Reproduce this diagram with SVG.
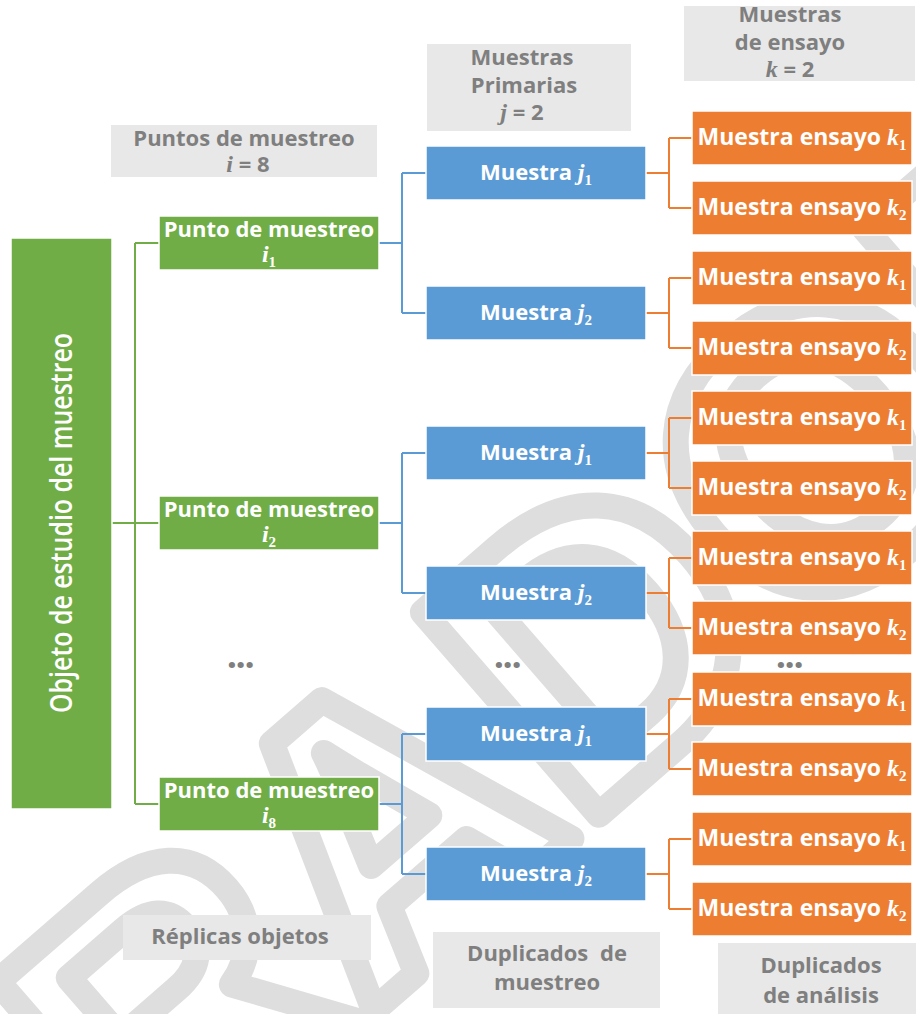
<svg xmlns="http://www.w3.org/2000/svg" width="916" height="1014" viewBox="0 0 916 1014">
  <style>
    .wm { font-family: "Liberation Sans", Arial, sans-serif; font-weight: 700; font-size: 390px; fill: none; stroke: #dedede; stroke-width: 26; stroke-linejoin: round; }
    .lbl { fill: #e8e8e8; }
    .lt { font-family: "Open Sans", "Liberation Sans", sans-serif; font-weight: 700; font-size: 22px; fill: #7f7f7f; text-anchor: middle; }
    .nt { font-family: "Open Sans", "Liberation Sans", sans-serif; font-weight: 700; font-size: 22px; fill: #ffffff; text-anchor: middle; }
    .ot { font-size: 23px; }
    .var { font-family: "Liberation Serif", "DejaVu Serif", serif; font-style: italic; font-weight: 700; font-size: 24px; }
    .sub { font-family: "Liberation Serif", "DejaVu Serif", serif; font-weight: 700; font-size: 15px; }
    .dots { font-family: "Open Sans", "Liberation Sans", sans-serif; font-weight: 700; font-size: 36px; fill: #7f7f7f; text-anchor: middle; letter-spacing: -1.5px; }
    .g { fill: #70ad47; stroke: #ffffff; stroke-width: 1.5; }
    .b { fill: #5b9bd5; stroke: #ffffff; stroke-width: 1.5; }
    .o { fill: #ed7d31; stroke: #ffffff; stroke-width: 1.5; }
    .cg { fill: none; stroke: #70ad47; stroke-width: 2; }
    .cb { fill: none; stroke: #5b9bd5; stroke-width: 2; }
    .co { fill: none; stroke: #ed7d31; stroke-width: 2; }
  </style>

  <!-- draft watermark -->
  <text class="wm" transform="translate(-500,1770) rotate(-41)" x="0" y="0">BORRADOR</text>

  <!-- column headings -->
  <g id="hdr-puntos">
    <rect class="lbl" x="111" y="125" width="266" height="52"/>
    <text class="lt" x="244" y="146">Puntos de muestreo</text>
    <text class="lt" x="248" y="172"><tspan class="var">i</tspan> = 8</text>
  </g>
  <g id="hdr-primarias">
    <rect class="lbl" x="427" y="44" width="204" height="87"/>
    <text class="lt" x="522" y="65">Muestras</text>
    <text class="lt" x="524" y="93">Primarias</text>
    <text class="lt" x="522" y="120"><tspan class="var">j</tspan> = 2</text>
  </g>
  <g id="hdr-ensayo">
    <rect class="lbl" x="684" y="6" width="231" height="75"/>
    <text class="lt" x="790" y="22">Muestras</text>
    <text class="lt" x="790" y="50">de ensayo</text>
    <text class="lt" x="790" y="77"><tspan class="var">k</tspan> = 2</text>
  </g>

  <!-- connectors -->
  <g id="connectors">
    <path class="cg" d="M112,523 H135 M135,243 V804 M135,243 H159 M135,523 H159 M135,804 H159"/>
    <path class="cb" d="M379,243 H402 M402,173 V313 M402,173 H426 M402,313 H426"/>
    <path class="cb" d="M379,523 H402 M402,453 V593 M402,453 H426 M402,593 H426"/>
    <path class="cb" d="M379,804 H402 M402,734 V874 M402,734 H426 M402,874 H426"/>
    <path class="co" d="M646,173 H669 M669,138 V208 M669,138 H692 M669,208 H692"/>
    <path class="co" d="M646,313 H669 M669,278 V348 M669,278 H692 M669,348 H692"/>
    <path class="co" d="M646,453 H669 M669,418 V488 M669,418 H692 M669,488 H692"/>
    <path class="co" d="M646,593 H669 M669,558 V628 M669,558 H692 M669,628 H692"/>
    <path class="co" d="M646,734 H669 M669,699 V769 M669,699 H692 M669,769 H692"/>
    <path class="co" d="M646,874 H669 M669,839 V909 M669,839 H692 M669,909 H692"/>
  </g>

  <!-- root -->
  <g id="objeto">
    <rect class="g" x="11" y="238" width="101" height="571"/>
    <text transform="translate(72,523) rotate(-90)" x="0" y="0" font-family="'Open Sans', 'Liberation Sans', sans-serif" font-weight="600" font-size="30" fill="#ffffff" text-anchor="middle" textLength="380" lengthAdjust="spacingAndGlyphs">Objeto de estudio del muestreo</text>
  </g>

  <!-- sampling points -->
  <g id="punto-1">
    <rect class="g" x="159" y="216" width="220" height="54"/>
    <text class="nt" x="269" y="237">Punto de muestreo</text>
    <text class="nt" x="269" y="262"><tspan class="var">i</tspan><tspan class="sub" dy="5">1</tspan></text>
  </g>
  <g id="punto-2">
    <rect class="g" x="159" y="496" width="220" height="54"/>
    <text class="nt" x="269" y="517">Punto de muestreo</text>
    <text class="nt" x="269" y="542"><tspan class="var">i</tspan><tspan class="sub" dy="5">2</tspan></text>
  </g>
  <g id="punto-8">
    <rect class="g" x="159" y="777" width="220" height="54"/>
    <text class="nt" x="269" y="798">Punto de muestreo</text>
    <text class="nt" x="269" y="823"><tspan class="var">i</tspan><tspan class="sub" dy="5">8</tspan></text>
  </g>

  <!-- primary samples -->
  <g id="muestra-1-1">
    <rect class="b" x="426" y="146" width="220" height="54"/>
    <text class="nt" x="536" y="180">Muestra <tspan class="var">j</tspan><tspan class="sub" dy="5">1</tspan></text>
  </g>
  <g id="muestra-1-2">
    <rect class="b" x="426" y="286" width="220" height="54"/>
    <text class="nt" x="536" y="320">Muestra <tspan class="var">j</tspan><tspan class="sub" dy="5">2</tspan></text>
  </g>
  <g id="muestra-2-1">
    <rect class="b" x="426" y="426" width="220" height="54"/>
    <text class="nt" x="536" y="460">Muestra <tspan class="var">j</tspan><tspan class="sub" dy="5">1</tspan></text>
  </g>
  <g id="muestra-2-2">
    <rect class="b" x="426" y="566" width="220" height="54"/>
    <text class="nt" x="536" y="600">Muestra <tspan class="var">j</tspan><tspan class="sub" dy="5">2</tspan></text>
  </g>
  <g id="muestra-8-1">
    <rect class="b" x="426" y="707" width="220" height="54"/>
    <text class="nt" x="536" y="741">Muestra <tspan class="var">j</tspan><tspan class="sub" dy="5">1</tspan></text>
  </g>
  <g id="muestra-8-2">
    <rect class="b" x="426" y="847" width="220" height="54"/>
    <text class="nt" x="536" y="881">Muestra <tspan class="var">j</tspan><tspan class="sub" dy="5">2</tspan></text>
  </g>

  <!-- test samples -->
  <g id="ensayo-1-1-1"><rect class="o" x="692" y="111" width="220" height="54"/><text class="nt ot" x="802" y="145">Muestra ensayo <tspan class="var">k</tspan><tspan class="sub" dy="5">1</tspan></text></g>
  <g id="ensayo-1-1-2"><rect class="o" x="692" y="181" width="220" height="54"/><text class="nt ot" x="802" y="215">Muestra ensayo <tspan class="var">k</tspan><tspan class="sub" dy="5">2</tspan></text></g>
  <g id="ensayo-1-2-1"><rect class="o" x="692" y="251" width="220" height="54"/><text class="nt ot" x="802" y="285">Muestra ensayo <tspan class="var">k</tspan><tspan class="sub" dy="5">1</tspan></text></g>
  <g id="ensayo-1-2-2"><rect class="o" x="692" y="321" width="220" height="54"/><text class="nt ot" x="802" y="355">Muestra ensayo <tspan class="var">k</tspan><tspan class="sub" dy="5">2</tspan></text></g>
  <g id="ensayo-2-1-1"><rect class="o" x="692" y="391" width="220" height="54"/><text class="nt ot" x="802" y="425">Muestra ensayo <tspan class="var">k</tspan><tspan class="sub" dy="5">1</tspan></text></g>
  <g id="ensayo-2-1-2"><rect class="o" x="692" y="461" width="220" height="54"/><text class="nt ot" x="802" y="495">Muestra ensayo <tspan class="var">k</tspan><tspan class="sub" dy="5">2</tspan></text></g>
  <g id="ensayo-2-2-1"><rect class="o" x="692" y="531" width="220" height="54"/><text class="nt ot" x="802" y="565">Muestra ensayo <tspan class="var">k</tspan><tspan class="sub" dy="5">1</tspan></text></g>
  <g id="ensayo-2-2-2"><rect class="o" x="692" y="601" width="220" height="54"/><text class="nt ot" x="802" y="635">Muestra ensayo <tspan class="var">k</tspan><tspan class="sub" dy="5">2</tspan></text></g>
  <g id="ensayo-8-1-1"><rect class="o" x="692" y="672" width="220" height="54"/><text class="nt ot" x="802" y="706">Muestra ensayo <tspan class="var">k</tspan><tspan class="sub" dy="5">1</tspan></text></g>
  <g id="ensayo-8-1-2"><rect class="o" x="692" y="742" width="220" height="54"/><text class="nt ot" x="802" y="776">Muestra ensayo <tspan class="var">k</tspan><tspan class="sub" dy="5">2</tspan></text></g>
  <g id="ensayo-8-2-1"><rect class="o" x="692" y="812" width="220" height="54"/><text class="nt ot" x="802" y="846">Muestra ensayo <tspan class="var">k</tspan><tspan class="sub" dy="5">1</tspan></text></g>
  <g id="ensayo-8-2-2"><rect class="o" x="692" y="882" width="220" height="54"/><text class="nt ot" x="802" y="916">Muestra ensayo <tspan class="var">k</tspan><tspan class="sub" dy="5">2</tspan></text></g>

  <!-- omitted levels -->
  <g id="ellipsis">
    <text class="dots" x="240" y="668">...</text>
    <text class="dots" x="507" y="668">...</text>
    <text class="dots" x="789" y="668">...</text>
  </g>

  <!-- footer labels -->
  <g id="ftr-replicas">
    <rect class="lbl" x="123" y="915" width="248" height="45"/>
    <text class="lt" x="240" y="944">Réplicas objetos</text>
  </g>
  <g id="ftr-dup-muestreo">
    <rect class="lbl" x="433" y="932" width="227" height="76"/>
    <text class="lt" x="547" y="961" word-spacing="6">Duplicados de</text>
    <text class="lt" x="547" y="990">muestreo</text>
  </g>
  <g id="ftr-dup-analisis">
    <rect class="lbl" x="718" y="943" width="198" height="71"/>
    <text class="lt" x="821" y="973">Duplicados</text>
    <text class="lt" x="821" y="1003">de análisis</text>
  </g>
</svg>
